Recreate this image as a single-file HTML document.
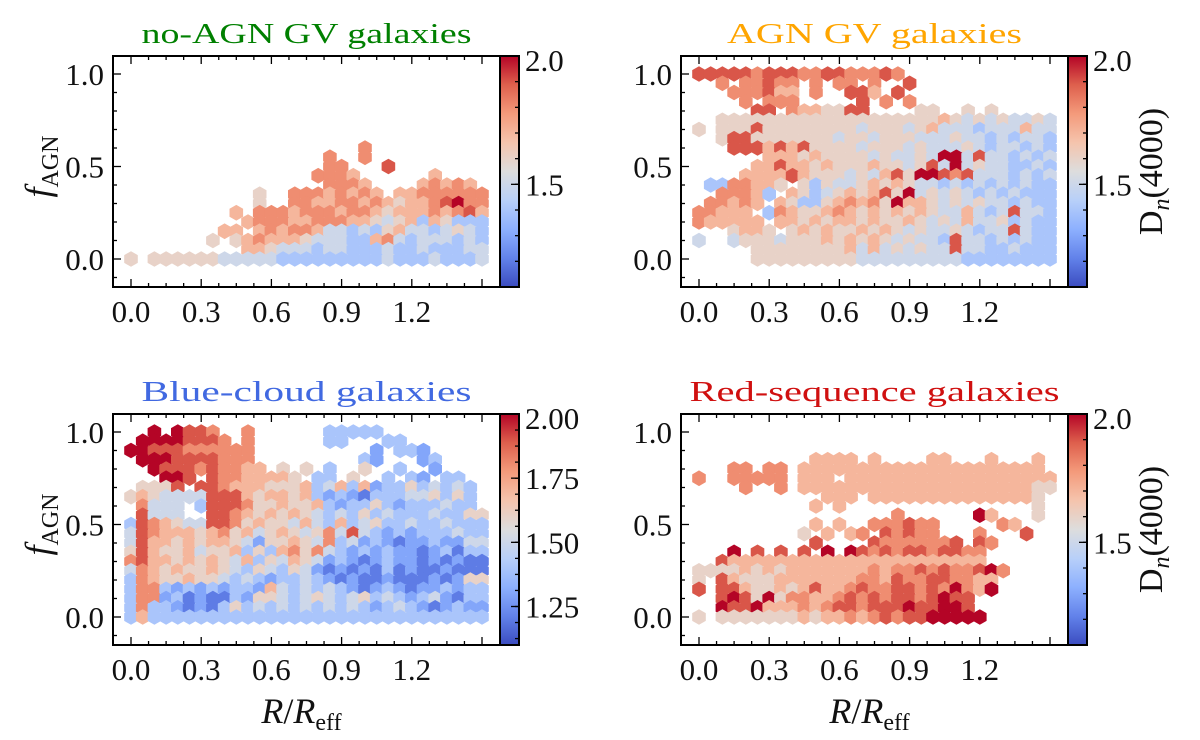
<!DOCTYPE html>
<html><head><meta charset="utf-8"><style>
html,body{margin:0;padding:0;background:#fff;font-family:"Liberation Serif","DejaVu Serif",serif;}
svg{display:block;}
</style></head><body>
<svg id="fig" width="1200" height="740" viewBox="0 0 1200 740" xmlns="http://www.w3.org/2000/svg" style="font-family:'Liberation Serif','DejaVu Serif',serif"></svg>
<script>
// ---- data: x grid (R/Reff), y grid (f_AGN); each row string: digit k => Dn4000 = 1.1 + 0.1k, '.' = empty
const xGrid = [0.00,0.05,0.10,0.15,0.20,0.25,0.30,0.35,0.40,0.45,0.50,0.55,0.60,0.65,0.70,0.75,0.80,0.85,0.90,0.95,1.00,1.05,1.10,1.15,1.20,1.25,1.30,1.35,1.40,1.45,1.50];
const yGrid = [1.00,0.95,0.90,0.85,0.80,0.75,0.70,0.65,0.60,0.55,0.50,0.45,0.40,0.35,0.30,0.25,0.20,0.15,0.10,0.05,0.00];
const rowsNoAGN = [
"...............................",
"...............................",
"...............................",
"...............................",
"...............................",
"...............................",
"...............................",
"...............................",
"....................7..........",
".................7..7..........",
".................77...8........",
"................7776......6....",
".................7776....67676.",
"...........5..77767676.66777777",
"...........5..7766776765667897" + "7",
".........6.777677767" + "7656667678" + "6",
"..........6777667776" + "6545636533" + "3",
"........66.676776443" + "4356443454" + "3",
".......5.56766654443" + "3674344434" + "3",
"..........6654443443" + "3343343334" + "4",
"5.555555444443333333" + "3343334333" + "4"
];
const rowsAGN = [
"8888878887" + "78877787.." + ".........." + ".",
"..7.77877." + "7.77.7..8." + ".........." + ".",
"...777866." + "7..886.8.." + ".........." + ".",
"....7.777." + "....8.7.7." + ".........." + ".",
".....88.76" + "65588....5" + "5..5.5...." + ".",
"..55555555" + "5555555555" + "5654545445" + "4",
"5.55585555" + "5555455545" + "6444344464" + "4",
"..58855555" + "5545545554" + "4454434344" + "3",
"...8886868" + "5555455545" + "4445434434" + "3",
"......6665" + "6555545445" + "4994844343" + "4",
".....66866" + "5655565545" + "8494544334" + "3",
"....666686" + "5554546859" + "9878444343" + "4",
".3377665.5" + "3544565654" + "4343434343" + "3",
"..77763.65" + "3456568594" + "5454343433" + "3",
".77676.653" + "3567675966" + "5454544343" + "3",
"77666.3765" + "5676565656" + "5446434844" + "3",
"766666.665" + "6566565565" + "4546445343" + "3",
"...5665.56" + "5655656545" + "4454344843" + "3",
"4..4555455" + "5656565454" + "4384434343" + "3",
".....55555" + "5556464545" + "4484433433" + "3",
".....55555" + "5555444444" + "4443333333" + "3"
];
const rowsBlue = [
"..9.9887.." + "7......333" + "33........" + ".",
".99998887." + "7......33." + "..33......" + ".",
"9988877777" + "7........." + ".2.332...." + ".",
".999888877" + "7........." + "32...23..." + ".",
"..98887877" + "66.5.5.3.." + "5..3..2..." + ".",
"...998.877" + "66665.33.5" + "..3.32.33." + ".",
".5558.8876" + "6655563463" + "6233534343" + ".",
"5654444888" + "6566563232" + "1333445353" + ".",
".7444.3888" + "7556556323" + "3532333433" + ".",
".8444..887" + "6565654343" + "5343334335" + "5",
"3876544887" + "5655464363" + "4533433433" + "3",
"4876665675" + "6456545748" + "4323233343" + "3",
"4866565665" + "4255654734" + "2321223224" + "4",
"5865564556" + "3536757432" + "3232212313" + "3",
"7866565654" + "6354654232" + "1232212121" + "1",
"4765655654" + "3543542121" + "2131211211" + "1",
"3765565543" + "4323343212" + "1121112125" + "5",
"3773232323" + "3264343432" + "1232122323" + "3",
"3772312113" + "2554345434" + "5343234213" + "3",
"3733212135" + "3434343434" + "3234321232" + "2",
"3633333333" + "3333333333" + "3333333333" + "3"
];
const rowsRed = [
".........." + ".........." + ".........." + ".",
".........." + ".........." + ".........." + ".",
".........." + ".........." + ".........." + ".",
".........." + "6666.6...." + "66...6...6" + ".",
"...77.77.6" + "6666666666" + "6666666666" + ".",
"7..77777.6" + "66.6666666" + "6666666666" + "6",
"....7..7.6" + "6666666666" + "6666666665" + "5",
".........." + ".666.66666" + "6666666665" + ".",
".........." + "6.6......." + ".........5" + ".",
".........." + ".......7.." + "....96...5" + ".",
".........." + "6.6..77787" + "7.....76.." + ".",
".........5" + ".6.67.8787" + "7...7...8." + ".",
".........." + "8....87777" + "778.87...." + ".",
"...9.8.8.8" + ".9.9878788" + "78877....." + ".",
"..86666666" + "6666666666" + "66666....." + ".",
"5555656566" + "6666676778" + "7877897..." + ".",
"5.86555666" + "6666776877" + "887766...." + ".",
"8.88655656" + "8667877887" + "879769...." + ".",
"..89859577" + "6678787887" + "8988......" + ".",
"..98896667" + "6788788898" + "8998......" + ".",
"5.55555556" + "5667678788" + "99999....." + "."
];
const panelTitles = ["no-AGN GV galaxies","AGN GV galaxies","Blue-cloud galaxies","Red-sequence galaxies"];
const xTicks = [0.0,0.3,0.6,0.9,1.2];
const xTickLabels = ["0.0","0.3","0.6","0.9","1.2"];
const yTicks = [0.0,0.5,1.0];
const yTickLabels = ["0.0","0.5","1.0"];
const cbTicksA = [2.0,1.5];
const cbLabelsA = ["2.0","1.5"];
const cbTicksB = [2.0,1.75,1.5,1.25];
const cbLabelsB = ["2.00","1.75","1.50","1.25"];

const NS = "http://www.w3.org/2000/svg";
const svg = document.getElementById("fig");
function el(tag, attrs, parent){ const e=document.createElementNS(NS,tag); for(const k in attrs) e.setAttribute(k,attrs[k]); if(tag==="text") e.setAttribute("style","font-family:'Liberation Serif','DejaVu Serif',serif"); (parent||svg).appendChild(e); return e; }

const cmap = [[59,76,192],[98,130,234],[141,176,254],[184,208,249],[221,221,221],[245,196,173],[244,154,123],[222,96,77],[180,4,38]];
function colorAt(t){ t=Math.max(0,Math.min(1,t)); const p=t*8, i=Math.min(7,Math.floor(p)), f=p-i; const a=cmap[i], b=cmap[i+1];
  return "rgb("+a.map((v,j)=>Math.round(v+(b[j]-v)*f)).join(",")+")"; }
const VMIN=1.1, VMAX=2.0;

const panels = [
 {x0:113,y0:56,rows:rowsNoAGN,title:panelTitles[0],tw:330,tc:"#008000",cbT:cbTicksA,cbL:cbLabelsA,cbMinor:0.1,ylab:true,xlab:false,cblab:false,name:"no-agn-gv"},
 {x0:681,y0:56,rows:rowsAGN,title:panelTitles[1],tw:295,tc:"#ffa500",cbT:cbTicksA,cbL:cbLabelsA,cbMinor:0.1,ylab:false,xlab:false,cblab:true,name:"agn-gv"},
 {x0:113,y0:414,rows:rowsBlue,title:panelTitles[2],tw:330,tc:"#4169e1",cbT:cbTicksB,cbL:cbLabelsB,cbMinor:0.0625,ylab:true,xlab:true,cblab:false,name:"blue-cloud"},
 {x0:681,y0:414,rows:rowsRed,title:panelTitles[3],tw:370,tc:"#d01010",cbT:cbTicksA,cbL:cbLabelsA,cbMinor:0.1,ylab:false,xlab:true,cblab:true,name:"red-sequence"}
];
const W=387,H=231,CBW=19;
const HR=7.8;
function hexPts(cx,cy,r){ let s=[]; for(let k=0;k<6;k++){const a=Math.PI/180*(60*k-90); s.push((cx+r*Math.cos(a)).toFixed(1)+","+(cy+r*Math.sin(a)).toFixed(1));} return s.join(" "); }

panels.forEach(p=>{
  const g=el("g",{});
  
  
  const xs=v=>p.x0+18+v*234;
  const ys=v=>p.y0+18+(1-v)*185;
  const clipId="clip-"+p.name;
  const cp=el("clipPath",{id:clipId},g); el("rect",{x:p.x0,y:p.y0,width:W,height:H},cp);
  const marks=el("g",{"clip-path":"url(#"+clipId+")"},g);
  
  
  p.rows.forEach((row,ri)=>{
    for(let ci=0; ci<xGrid.length && ci<row.length; ci++){
      const ch=row[ci]; if(ch<"0"||ch>"9") continue;
      const d=1.1+0.1*(+ch);
      const h=el("polygon",{points:hexPts(xs(xGrid[ci]),ys(yGrid[ri]),HR),fill:colorAt((d-VMIN)/(VMAX-VMIN))},marks);
      
      
    }
  });
  const fr=el("rect",{x:p.x0,y:p.y0,width:W,height:H,fill:"none",stroke:"#000","stroke-width":2},g);
  
  
  for(let i=0;i<=20;i++){ const v=i*0.075; const X=xs(v); if(X>p.x0+W) break; const L=(i%4===0)?8:4;
    el("line",{x1:X,y1:p.y0+H,x2:X,y2:p.y0+H-L,stroke:"#000","stroke-width":1.3},g);
    el("line",{x1:X,y1:p.y0,x2:X,y2:p.y0+L,stroke:"#000","stroke-width":1.3},g); }
  xTicks.forEach((v,i)=>{ const t=el("text",{x:xs(v),y:p.y0+H+35,"font-size":31,"text-anchor":"middle",fill:"#111"},g); t.textContent=xTickLabels[i];
    
     });
  for(let i=-1;i<=11;i++){ const v=i*0.1; const Y=ys(v); if(Y<p.y0||Y>p.y0+H) continue; const L=(i%5===0)?8:4;
    el("line",{x1:p.x0,y1:Y,x2:p.x0+L,y2:Y,stroke:"#000","stroke-width":1.3},g); }
  yTicks.forEach((v,i)=>{ const t=el("text",{x:p.x0-9,y:ys(v)+11,"font-size":31,"text-anchor":"end",fill:"#111"},g); t.textContent=yTickLabels[i];
    
     });
  const tt=el("text",{x:p.x0+W/2,y:p.y0-13,"font-size":29,"text-anchor":"middle",fill:p.tc,textLength:p.tw,lengthAdjust:"spacingAndGlyphs"},g); tt.textContent=p.title;
  
  
  const cx=p.x0+W;
  const gid="grad-"+p.name; const lg=el("linearGradient",{id:gid,x1:0,y1:1,x2:0,y2:0},g);
  for(let k=0;k<=8;k++) el("stop",{offset:(k/8),"stop-color":colorAt(k/8)},lg);
  const cb=el("rect",{x:cx,y:p.y0,width:CBW,height:H,fill:"url(#"+gid+")",stroke:"#000","stroke-width":2},g);
  
  
  const cys=d=>p.y0+(VMAX-d)/(VMAX-VMIN)*H;
  for(let d=VMAX; d>VMIN+0.001; d-=p.cbMinor){ const Y=cys(d); el("line",{x1:cx+CBW,y1:Y,x2:cx+CBW-4,y2:Y,stroke:"#000","stroke-width":1.3},g); }
  p.cbT.forEach((d,i)=>{ const Y=cys(d); el("line",{x1:cx+CBW,y1:Y,x2:cx+CBW-8,y2:Y,stroke:"#000","stroke-width":1.3},g);
    const t=el("text",{x:cx+CBW+6,y:Math.max(Y+11,p.y0+15),"font-size":31,fill:"#111"},g); t.textContent=p.cbL[i];
    
     });
  if(p.ylab){ const t=el("text",{x:0,y:0,"font-size":36,"text-anchor":"middle",transform:"translate(50,"+(p.y0+H/2-5)+") rotate(-90)",fill:"#111"},g);
    t.innerHTML='<tspan font-style="italic">f</tspan><tspan font-size="24" dy="8">AGN</tspan>';
    
     }
  if(p.xlab){ const t=el("text",{x:p.x0+W/2-5,y:p.y0+H+78,"font-size":36,"text-anchor":"middle",fill:"#111"},g);
    t.innerHTML='<tspan font-style="italic">R</tspan>/<tspan font-style="italic">R</tspan><tspan font-size="24" dy="7">eff</tspan>';
    
     }
  if(p.cblab){ const t=el("text",{x:0,y:0,"font-size":34,"text-anchor":"middle",transform:"translate(1162,"+(p.y0+H/2)+") rotate(-90)",fill:"#111"},g);
    t.innerHTML='D<tspan font-style="italic" font-size="24" dy="7">n</tspan><tspan dy="-7">(4000)</tspan>';
    
     }
});
</script>
</body></html>
